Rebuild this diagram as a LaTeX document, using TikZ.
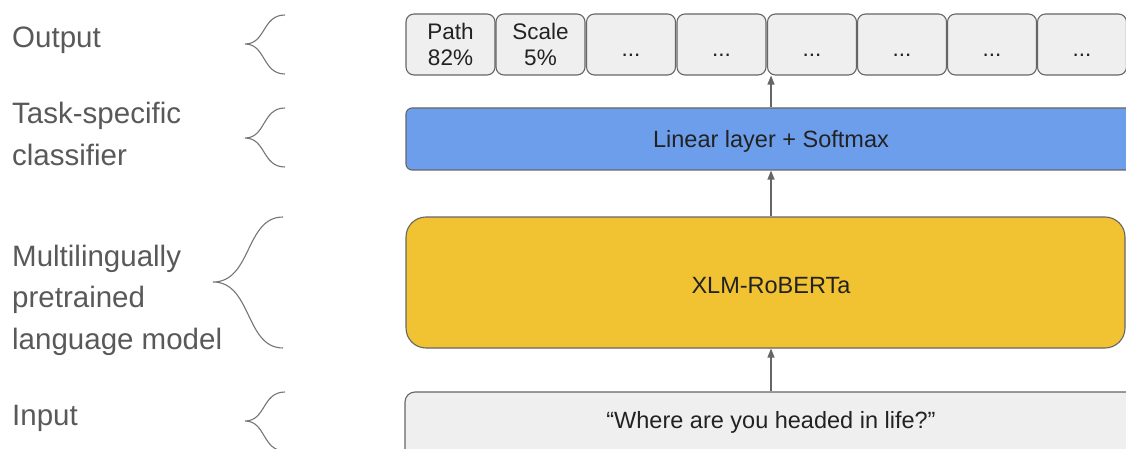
\documentclass[tikz,border=0pt]{standalone}
\usepackage{fontspec}
\setmainfont{Liberation Sans}
\usetikzlibrary{arrows.meta}
\definecolor{edge}{HTML}{666666}
\definecolor{lbl}{HTML}{595959}
\definecolor{boxgray}{HTML}{EFEFEF}
\definecolor{softblue}{HTML}{6D9EEB}
\definecolor{gold}{HTML}{F1C232}
\definecolor{ink}{HTML}{222222}
\newcommand{\dotsbox}{\rule{0pt}{24pt}...}
\begin{document}
\begin{tikzpicture}[x=1pt,y=-1pt,
  outbox/.style={draw=edge, fill=boxgray, line width=1.1pt, rounded corners=8pt,
    minimum width=89pt, minimum height=61pt, inner sep=0pt, align=center,
    text=ink, font=\fontsize{22.5}{26.5}\selectfont},
  layer/.style={draw=edge, line width=1.1pt, inner sep=0pt, text=ink,
    font=\fontsize{23.5}{28}\selectfont},
  side/.style={anchor=west, inner sep=0pt, align=left, text=lbl,
    font=\fontsize{29.5}{41.5}\selectfont},
  brace/.style={draw=edge!90, line width=1.1pt},
  flow/.style={draw=edge, line width=1.2pt, -{Triangle[length=9pt,width=7pt]}}]
\useasboundingbox (0,0) rectangle (1126,449);
\clip (0,0) rectangle (1126,449);

% side captions
\node[side] (capout) at (12,40) {Output};
\node[side] (capcls) at (12,134) {Task-specific\\classifier};
\node[side] (caplm) at (12,300) {Multilingually\\pretrained\\language model};
\node[side] (capin) at (12,418) {Input};

% curly braces
\draw[brace] (285,15) .. controls (262,15) and (266,44) .. (245,44)
             .. controls (266,44) and (262,74) .. (285,74);
\draw[brace] (285,108) .. controls (262,108) and (266,138) .. (245,138)
             .. controls (266,138) and (262,167) .. (285,167);
\draw[brace] (283,217) .. controls (245,217) and (252,282) .. (213,282)
             .. controls (252,282) and (245,348) .. (283,348);
\draw[brace] (285,392) .. controls (262,392) and (266,421) .. (245,421)
             .. controls (266,421) and (262,451) .. (285,451);

% output probabilities
\node[outbox] (o1) at (450.5,44.5) {Path\\82\%};
\node[outbox] (o2) at (540.5,44.5) {Scale\\5\%};
\node[outbox] (o3) at (631,44.5) {\dotsbox};
\node[outbox] (o4) at (721.5,44.5) {\dotsbox};
\node[outbox] (o5) at (812,44.5) {\dotsbox};
\node[outbox] (o6) at (902,44.5) {\dotsbox};
\node[outbox] (o7) at (992,44.5) {\dotsbox};
\node[outbox] (o8) at (1082,44.5) {\dotsbox};

% model stack
\node[layer, fill=softblue, rounded corners=6pt, minimum width=730pt, minimum height=62pt,
  text depth=0pt] (lin) at (771,139) {Linear layer + Softmax};
\node[layer, fill=gold, rounded corners=20pt, minimum width=719pt, minimum height=131pt,
  text height=21pt, text depth=0pt] (xlm) at (765.5,282.5) {\hspace*{11pt}XLM-RoBERTa};
\node[layer, fill=boxgray, rounded corners=10pt, minimum width=732pt, minimum height=78pt]
  (inp) at (771,431) {};
\node[inner sep=0pt, text=ink, font=\fontsize{23.5}{28}\selectfont]
  (inptxt) at (771,422) {“Where are you headed in life?”};

% data flow
\coordinate (ax) at (771,0);
\draw[flow] (inp.north -| ax) -- (xlm.south -| ax);
\draw[flow] (xlm.north -| ax) -- (lin.south -| ax);
\draw[flow] (lin.north -| ax) -- (o5.south -| ax);
\end{tikzpicture}
\end{document}
